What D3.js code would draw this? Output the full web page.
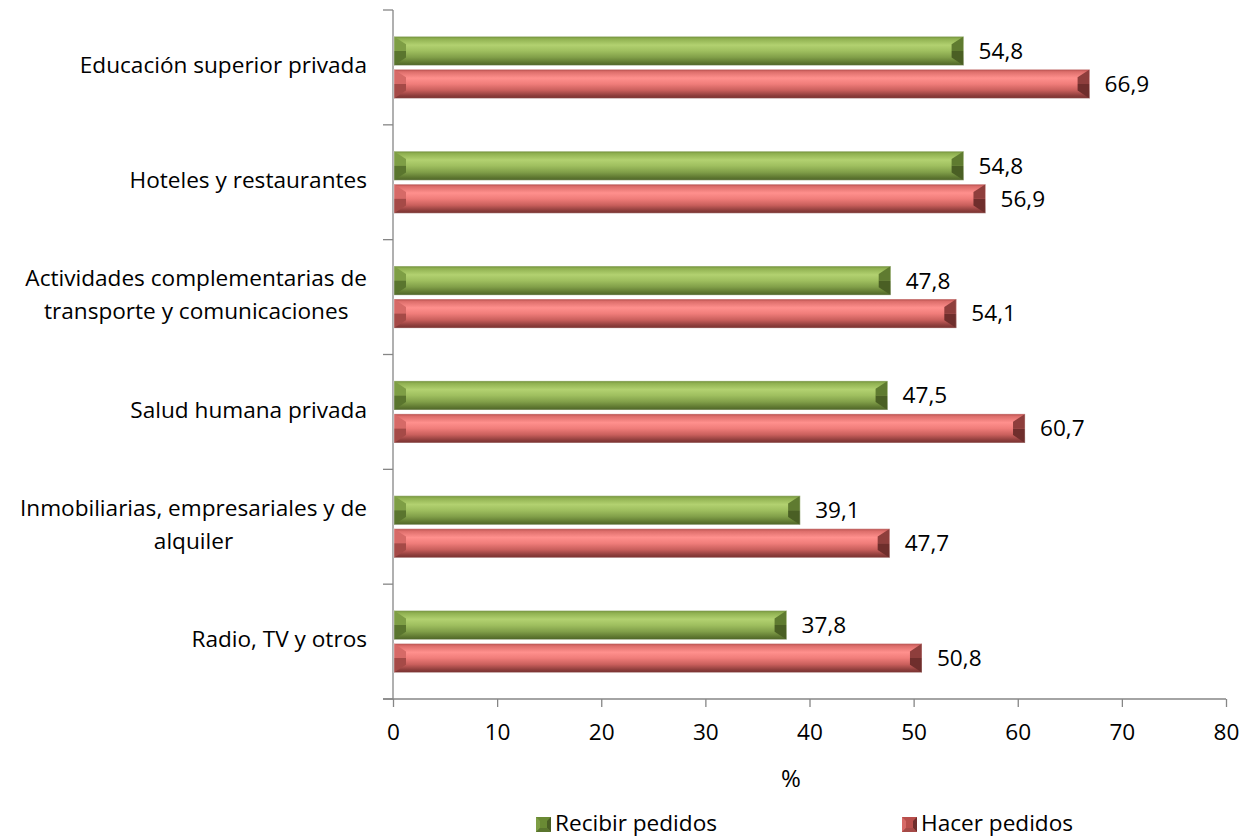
<!DOCTYPE html>
<html><head><meta charset="utf-8">
<script src="https://cdn.jsdelivr.net/npm/d3@7"></script>
<style>body{margin:0;background:#fff}svg{display:block;font-family:"Open Sans",sans-serif}</style>
</head><body><svg id="c" width="1243" height="838"></svg>
<script>
const categories = [
  ["Educación superior privada"],
  ["Hoteles y restaurantes"],
  ["Actividades complementarias de","transporte y comunicaciones"],
  ["Salud humana privada"],
  ["Inmobiliarias, empresariales y de","alquiler"],
  ["Radio, TV y otros"]
];
const recibir = [54.8, 54.8, 47.8, 47.5, 39.1, 37.8];
const hacer   = [66.9, 56.9, 54.1, 60.7, 47.7, 50.8];
const seriesNames = ["Recibir pedidos","Hacer pedidos"];
const xTicks = [0,10,20,30,40,50,60,70,80];
const xTitle = "%";

(function(){
const FS = 22.6;
const svg = d3.select("#c");
const pL = 393, pR = 1226, pT = 10, pB = 699;
const x = d3.scaleLinear().domain([0,80]).range([pL,pR]);
const y = d3.scaleBand().domain(d3.range(categories.length)).range([pT,pB]).paddingInner(0.46).paddingOuter(0.23);
const ys = d3.scaleBand().domain([0,1]).range([0,y.bandwidth()]).paddingInner(0.12);

const defs = svg.append("defs");
const pal = [
  {id:"g", stops:[[0,"#6f8d3a"],[0.08,"#8fb050"],[0.3,"#b2d170"],[0.5,"#9fbf5f"],[0.72,"#819f49"],[0.9,"#5f7831"],[1,"#4e6428"]], lt:"#7e9e45", dk:"#5a752e", side:"#4a5f24", sideLt:"#5f7b30", leg:"#6a8a34"},
  {id:"r", stops:[[0,"#b24c4a"],[0.08,"#dc6d6a"],[0.3,"#ff908d"],[0.5,"#f07d7a"],[0.72,"#c95f5c"],[0.9,"#8e3e3c"],[1,"#783230"]], lt:"#d66a67", dk:"#a54a47", side:"#6f2e2c", sideLt:"#8e3e3c", leg:"#b84e4b"}
];
pal.forEach(p=>{
  const lg = defs.append("linearGradient").attr("id","grad"+p.id).attr("x1",0).attr("y1",0).attr("x2",0).attr("y2",1);
  p.stops.forEach(s=>lg.append("stop").attr("offset",s[0]).attr("stop-color",s[1]));
});

const axisCol = "#868686";
svg.append("line").attr("x1",pL).attr("x2",pL).attr("y1",pT).attr("y2",pB).attr("stroke",axisCol).attr("stroke-width",1.3);
svg.append("line").attr("x1",pL-10).attr("x2",pR).attr("y1",pB).attr("y2",pB).attr("stroke",axisCol).attr("stroke-width",1.3);
const step = (pB-pT)/categories.length;
d3.range(categories.length+1).forEach(i=>{
  svg.append("line").attr("x1",pL-10).attr("x2",pL).attr("y1",pT+i*step).attr("y2",pT+i*step).attr("stroke",axisCol).attr("stroke-width",1.3);
});
const xa = svg.append("g").attr("transform",`translate(0,${pB})`)
  .call(d3.axisBottom(x).tickValues(xTicks).tickSize(8).tickPadding(17).tickFormat(d3.format("d")));
xa.select(".domain").remove();
xa.selectAll("line").attr("stroke",axisCol).attr("stroke-width",1.3);
xa.selectAll("text").attr("font-size",FS).attr("fill","#000").attr("font-family","'Open Sans',sans-serif");
svg.append("text").attr("x",791).attr("y",787).attr("text-anchor","middle").attr("font-size",24).text(xTitle);

categories.forEach((lines,i)=>{
  const cy = pT + i*step + step/2;
  const t = svg.append("text").attr("font-size",FS).attr("fill","#000");
  if(lines.length===1){
    t.attr("text-anchor","end").attr("x",367).attr("y",cy-2).attr("dy","0.35em").text(lines[0]);
  } else {
    const tmp = svg.append("text").attr("font-size",FS).text(lines[0]);
    const w = tmp.node().getComputedTextLength(); tmp.remove();
    const cx = 367 - w/2;
    lines.forEach((l,j)=>{
      t.append("tspan").attr("x",cx).attr("y",cy-2 + (j-0.5)*33).attr("dy","0.35em").attr("text-anchor","middle").text(l);
    });
  }
});

function bevelBar(g, x0, x1, y0, h, p){
  const b = Math.min(12, (x1-x0)/2), y1 = y0+h, ym = y0+h/2, d = h*0.27;
  g.append("rect").attr("x",x0).attr("y",y0).attr("width",x1-x0).attr("height",h).attr("fill",`url(#grad${p.id})`);
  g.append("path").attr("d",`M${x0},${y0}L${x0+b},${y0+d}L${x0+b},${ym}L${x0},${ym}Z`).attr("fill",p.lt);
  g.append("path").attr("d",`M${x0},${ym}L${x0+b},${ym}L${x0+b},${y1-d}L${x0},${y1}Z`).attr("fill",p.dk);
  g.append("path").attr("d",`M${x1},${y0}L${x1-b},${y0+d}L${x1-b},${ym}L${x1},${ym}Z`).attr("fill",p.sideLt);
  g.append("path").attr("d",`M${x1},${ym}L${x1-b},${ym}L${x1-b},${y1-d}L${x1},${y1}Z`).attr("fill",p.side);
  g.append("rect").attr("x",x0).attr("y",y0).attr("width",x1-x0).attr("height",h).attr("fill","none").attr("stroke","rgba(255,255,255,0.35)").attr("stroke-width",1);
}
[recibir, hacer].forEach((vals,si)=>{
  vals.forEach((v,i)=>{
    const y0 = y(i) + ys(si), h = ys.bandwidth();
    const g = svg.append("g");
    bevelBar(g, x(0)+1, x(v), y0, h, pal[si]);
    svg.append("text").attr("x",x(v)+15).attr("y",y0+h/2).attr("dy","0.35em").attr("font-size",FS).text(d3.format(".1f")(v).replace(".",","));
  });
});

function bevelLeg(g,x0,y0,s,p){
  const b=4;
  g.append("rect").attr("x",x0).attr("y",y0).attr("width",s).attr("height",s).attr("fill",p.leg);
  g.append("path").attr("d",`M${x0},${y0}L${x0+b},${y0+b}L${x0+b},${y0+s-b}L${x0},${y0+s}Z`).attr("fill",p.lt);
  g.append("path").attr("d",`M${x0+s},${y0}L${x0+s-b},${y0+b}L${x0+s-b},${y0+s-b}L${x0+s},${y0+s}Z`).attr("fill",p.side);
  g.append("path").attr("d",`M${x0},${y0+s}L${x0+b},${y0+s-b}L${x0+s-b},${y0+s-b}L${x0+s},${y0+s}Z`).attr("fill",p.dk);
}
const legX = [536, 902];
seriesNames.forEach((n,i)=>{
  const g = svg.append("g");
  bevelLeg(g, legX[i], 817, 15, pal[i]);
  svg.append("text").attr("x",legX[i]+19).attr("y",823).attr("dy","0.35em").attr("font-size",FS).text(n);
});
})();
</script></body></html>
